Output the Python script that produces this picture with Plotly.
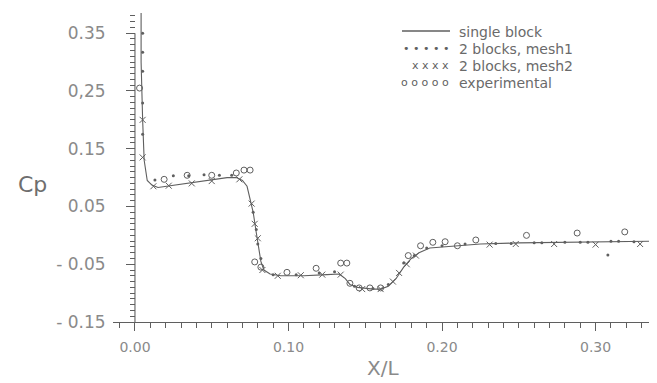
import plotly.graph_objects as go

# ---------------- data ----------------
single_x = [0.004, 0.004, 0.005, 0.006, 0.008, 0.011, 0.015, 0.020, 0.030, 0.040, 0.050, 0.060,
            0.066, 0.070, 0.073, 0.075, 0.077, 0.079, 0.081, 0.082, 0.084, 0.088, 0.095, 0.110,
            0.125, 0.133, 0.137, 0.140, 0.145, 0.155, 0.160, 0.165, 0.170, 0.175, 0.180, 0.185,
            0.192, 0.200, 0.210, 0.225, 0.250, 0.280, 0.310, 0.340]
single_y = [0.385, 0.300, 0.200, 0.130, 0.095, 0.087, 0.083, 0.085, 0.089, 0.092, 0.096, 0.100,
            0.100, 0.095, 0.085, 0.065, 0.040, 0.005, -0.025, -0.045, -0.060, -0.067, -0.070, -0.070,
            -0.068, -0.067, -0.075, -0.085, -0.090, -0.093, -0.093, -0.088, -0.075, -0.055, -0.040, -0.030,
            -0.022, -0.020, -0.018, -0.015, -0.013, -0.012, -0.011, -0.010]

mesh1_x = [0.005, 0.005, 0.005, 0.005, 0.005, 0.013, 0.025, 0.035, 0.045, 0.055, 0.063,
           0.077, 0.079, 0.080, 0.082, 0.090, 0.105, 0.120, 0.130, 0.143, 0.155, 0.165,
           0.175, 0.182, 0.190, 0.200, 0.215, 0.235, 0.245, 0.260, 0.265, 0.280, 0.290,
           0.295, 0.308, 0.310, 0.315, 0.325]
mesh1_y = [0.350, 0.317, 0.284, 0.229, 0.175, 0.096, 0.103, 0.103, 0.105, 0.104, 0.104,
           0.040, 0.010, -0.015, -0.040, -0.068, -0.068, -0.065, -0.063, -0.088, -0.092, -0.085,
           -0.048, -0.035, -0.022, -0.018, -0.015, -0.014, -0.014, -0.013, -0.013, -0.012, -0.012,
           -0.012, -0.034, -0.010, -0.010, -0.011]

mesh2_x = [0.005, 0.005, 0.012, 0.022, 0.037, 0.050, 0.068, 0.076, 0.078, 0.080, 0.083,
           0.093, 0.108, 0.122, 0.134, 0.148, 0.160, 0.168, 0.172, 0.177, 0.183,
           0.231, 0.248, 0.273, 0.300, 0.329]
mesh2_y = [0.135, 0.200, 0.085, 0.086, 0.090, 0.094, 0.097, 0.055, 0.020, -0.005, -0.060,
           -0.070, -0.069, -0.068, -0.068, -0.093, -0.093, -0.080, -0.065, -0.050, -0.035,
           -0.016, -0.015, -0.015, -0.016, -0.015]

exp_x = [0.003, 0.019, 0.034, 0.050, 0.066, 0.071, 0.075, 0.078, 0.082, 0.099, 0.118,
         0.134, 0.138, 0.140, 0.146, 0.153, 0.160, 0.178, 0.186, 0.194, 0.202, 0.210,
         0.222, 0.255, 0.288, 0.319]
exp_y = [0.255, 0.097, 0.104, 0.104, 0.108, 0.113, 0.113, -0.046, -0.055, -0.064, -0.057,
         -0.048, -0.048, -0.083, -0.091, -0.091, -0.091, -0.035, -0.018, -0.012, -0.011, -0.018,
         -0.008, 0.000, 0.004, 0.006]

# tick labels as written on the chart
y_label_alias = {"\u22120.15": "- 0.15", "\u22120.05": "- 0.05", "0.25": "0,25"}

legend_symbols = ["", "\u2022 \u2022 \u2022 \u2022 \u2022", "x x x x", "o o o o o"]
legend_labels = ["single block", "2 blocks, mesh1", "2 blocks, mesh2", "experimental"]

# ---------------- layout geometry ----------------
OFF = 8                     # default body margin of the html page
W, H = 657 - OFF, 383 - OFF
L, R, T, B = 113 - OFF, 0, 13 - OFF, 61
PW, PH = W - L - R, H - T - B
XMIN, XMAX = -0.0143, 0.340
YMIN, YMAX = -0.15, 0.385

def px2paper_x(px):
    return (px - OFF - L) / PW

def px2paper_y(py):
    return (H - B - (py - OFF)) / PH

INK = "#5f5f5f"
LABEL = "#8a8a8a"
FONT = "DejaVu Sans"

fig = go.Figure()
fig.add_trace(go.Scatter(x=single_x, y=single_y, mode="lines",
                         line=dict(color=INK, width=1.1), name="single block", showlegend=False))
fig.add_trace(go.Scatter(x=mesh1_x, y=mesh1_y, mode="markers",
                         marker=dict(color=INK, size=3, symbol="circle"), name="2 blocks, mesh1",
                         showlegend=False))
fig.add_trace(go.Scatter(x=mesh2_x, y=mesh2_y, mode="markers",
                         marker=dict(color=INK, size=6, symbol="x-thin", line=dict(color=INK, width=1)),
                         name="2 blocks, mesh2", showlegend=False))
fig.add_trace(go.Scatter(x=exp_x, y=exp_y, mode="markers",
                         marker=dict(color=INK, size=6, symbol="circle-open",
                                     line=dict(color=INK, width=1)),
                         name="experimental", showlegend=False))

# y axis line from -0.15 to 0.35 at x = 0
fig.add_shape(type="line", xref="x", yref="y", x0=0, x1=0, y0=-0.15, y1=0.35,
              line=dict(color=INK, width=1.1))

ypos = (0 - XMIN) / (XMAX - XMIN)

fig.update_layout(
    width=W, height=H,
    margin=dict(l=L, r=R, t=T, b=B, pad=0),
    paper_bgcolor="white", plot_bgcolor="white",
    showlegend=False,
    xaxis=dict(range=[XMIN, XMAX], domain=[0, 1], showgrid=False, zeroline=False,
               showline=True, linecolor=INK, linewidth=1.1,
               tickmode="linear", tick0=0, dtick=0.1, tickformat=".2f",
               ticks="outside", ticklen=8,
               tickcolor=INK, tickwidth=1, ticklabelstandoff=4,
               tickfont=dict(family=FONT, size=14, color=LABEL),
               minor=dict(tickmode="linear", tick0=0, dtick=0.01,
                          ticks="outside", ticklen=5, tickcolor=INK, tickwidth=1)),
    yaxis=dict(range=[YMIN, YMAX], domain=[0, 1], anchor="free", position=ypos,
               showgrid=False, zeroline=False, showline=False,
               tickmode="linear", tick0=0.05, dtick=0.1, tickformat=".2f",
               labelalias=y_label_alias,
               ticks="outside", ticklen=9,
               tickcolor=INK, tickwidth=1, ticklabelstandoff=17,
               tickfont=dict(family=FONT, size=17, color=LABEL),
               minor=dict(tickmode="linear", tick0=0.05, dtick=0.01,
                          ticks="outside", ticklen=5, tickcolor=INK, tickwidth=1)),
)

# axis titles
fig.add_annotation(xref="paper", yref="paper", x=px2paper_x(32), y=px2paper_y(184),
                   text="Cp", showarrow=False, xanchor="center", yanchor="middle",
                   font=dict(family=FONT, size=22, color="#6e6e6e"))
fig.add_annotation(xref="paper", yref="paper", x=px2paper_x(383), y=px2paper_y(368),
                   text="X/L", showarrow=False, xanchor="center", yanchor="middle",
                   font=dict(family=FONT, size=20, color="#8a8a8a"))

# legend (hand-drawn style)
rows_py = [32, 49, 66, 83]
fig.add_shape(type="line", xref="paper", yref="paper",
              x0=px2paper_x(402), x1=px2paper_x(450), y0=px2paper_y(31), y1=px2paper_y(31),
              line=dict(color=INK, width=1.3))
for sym, lab, py in zip(legend_symbols, legend_labels, rows_py):
    if sym:
        fig.add_annotation(xref="paper", yref="paper", x=px2paper_x(451), y=px2paper_y(py),
                           text=sym, showarrow=False, xanchor="right", yanchor="middle",
                           font=dict(family=FONT, size=11, color=INK))
    fig.add_annotation(xref="paper", yref="paper", x=px2paper_x(457), y=px2paper_y(py),
                       text=lab, showarrow=False, xanchor="left", yanchor="middle",
                       font=dict(family=FONT, size=14, color="#6a6a6a"))

fig.write_html("out.html")
